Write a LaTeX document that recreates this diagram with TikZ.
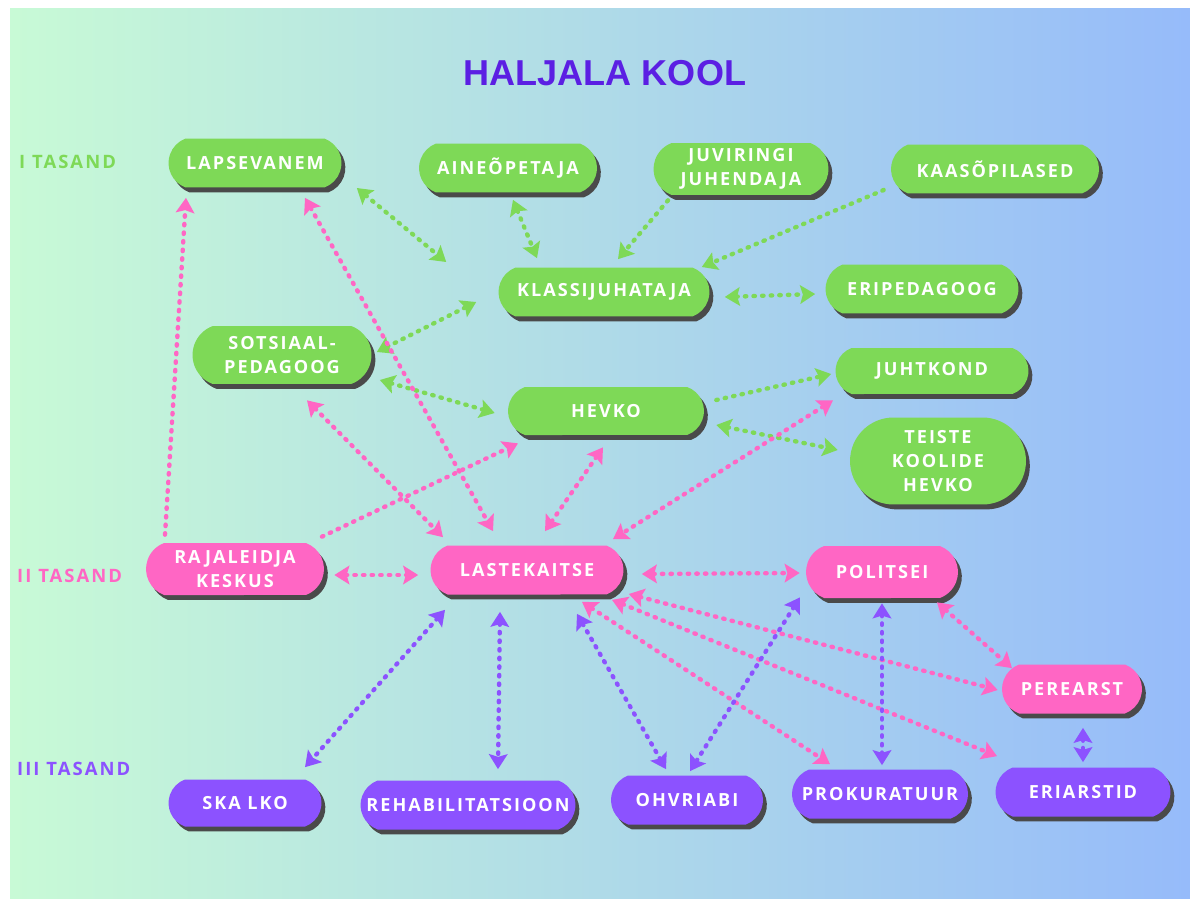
\documentclass[tikz,border=0pt]{standalone}
\usepackage{fontspec}
\newfontfamily\boxfont[LetterSpace=11]{Open Sans}
\newfontfamily\titlefont{Liberation Sans}
\usepackage{xcolor}
\usepackage{tikz}
\usetikzlibrary{arrows.meta,shapes.misc,shadows}

\definecolor{kgreen}{HTML}{7ED957}
\definecolor{kpink}{HTML}{FF66C4}
\definecolor{kpurple}{HTML}{8C52FF}
\definecolor{ktitle}{HTML}{5B1FE3}
\definecolor{kshadow}{HTML}{4A4A4A}
\definecolor{bgleft}{HTML}{C8FAD6}
\definecolor{bgright}{HTML}{96BBFA}

\begin{document}
\begin{tikzpicture}[
    x=0.02cm, y=-0.02cm,
    box/.style={
        % The shape:
        rounded rectangle,
        rounded rectangle arc length=140,
        minimum height=0.98cm,
        inner sep=2pt,
        % The shadow
        drop shadow={shadow xshift=2.2pt, shadow yshift=-2.8pt,
                     fill=kshadow, opacity=1},
        % The fonts
        text=white, align=center,
        font=\boxfont\bfseries\fontsize{10.3}{13.8}\selectfont},
    greenbox/.style={box, fill=kgreen},
    pinkbox/.style={box, fill=kpink},
    purplebox/.style={box, fill=kpurple},
    level/.style={anchor=west, font=\boxfont\bfseries\fontsize{10.5}{12}\selectfont},
    link/.style={line width=2.5pt, line cap=round, dash pattern=on 0.8pt off 4.1pt},
    glink/.style={link, draw=kgreen},
    plink/.style={link, draw=kpink},
    ulink/.style={link, draw=kpurple},
    both/.style={{Stealth[inset=1.5pt,length=8.5pt,width=10.5pt]}-{Stealth[inset=1.5pt,length=8.5pt,width=10.5pt]}},
    one/.style={-{Stealth[inset=1.5pt,length=8.5pt,width=10.5pt]}}
  ]
  \useasboundingbox (0,0) rectangle (1190,899);
  \fill [white] (0,0) rectangle (1190,899);
  \fill [left color=bgleft, right color=bgright] (10,8) rectangle (1190,899);

  \node (title) [text=ktitle, font=\titlefont\bfseries\fontsize{20.5}{24}\selectfont] at (605,73) {HALJALA KOOL};

  \node (tase1) [level, text=kgreen] at (13,162) {I TASAND};
  \node (tase2) [level, text=kpink] at (11,576) {II TASAND};
  \node (tase3) [level, text=kpurple] at (11,769) {III TASAND};

  % I tasand
  \node (lapsevanem) [greenbox, minimum width=3.6cm] at (255,163) {LAPSEVANEM};
  \node (aineopetaja) [greenbox, minimum width=3.7cm] at (508,168) {AINEÕPETAJA};
  \node (juviringi) [greenbox, minimum width=3.64cm, minimum height=1.04cm] at (741,169) {JUVIRINGI\\JUHENDAJA};
  \node (kaasopilased) [greenbox, minimum width=4.3cm] at (995,169) {KAASÕPILASED};
  \node (klassijuhataja) [greenbox, minimum width=4.36cm] at (604,292) {KLASSIJUHATAJA};
  \node (eripedagoog) [greenbox, minimum width=4cm] at (922,289) {ERIPEDAGOOG};
  \node (sotsiaal) [greenbox, minimum width=3.72cm, minimum height=1.16cm] at (282,355) {SOTSIAAL-\\PEDAGOOG};
  \node (hevko) [greenbox, minimum width=4.06cm, minimum height=0.96cm] at (606,411) {HEVKO};
  \node (juhtkond) [greenbox, minimum width=4cm, minimum height=0.92cm] at (932,371) {JUHTKOND};
  \node (teiste) [greenbox, rounded rectangle arc length=180, minimum width=3.66cm, minimum height=1.74cm] at (938,461) {TEISTE\\KOOLIDE\\HEVKO};

  % II tasand
  \node (rajaleidja) [pinkbox, minimum width=3.7cm, minimum height=1.04cm] at (235,569) {RAJALEIDJA\\KESKUS};
  \node (lastekaitse) [pinkbox, minimum width=4cm] at (527,570) {LASTEKAITSE};
  \node (politsei) [pinkbox, minimum width=3.18cm, minimum height=1.04cm] at (882,572) {POLITSEI};
  \node (perearst) [pinkbox, minimum width=2.94cm] at (1072,689) {PEREARST};

  % III tasand
  \node (skalko) [purplebox, minimum width=3.2cm, minimum height=0.94cm] at (245,803) {SKA LKO};
  \node (rehab) [purplebox, minimum width=4.44cm] at (468,805) {REHABILITATSIOON};
  \node (ohvriabi) [purplebox, minimum width=3.18cm] at (687,800) {OHVRIABI};
  \node (prokuratuur) [purplebox, minimum width=3.66cm] at (880,794) {PROKURATUUR};
  \node (eriarstid) [purplebox, minimum width=3.64cm] at (1083,792) {ERIARSTID};

  % rohelised seosed
  \draw [glink, both] ([shift={(15,25)}]lapsevanem.east) -- ([shift={(-52,-30)}]klassijuhataja.west);
  \draw [glink, both] ([shift={(5,7)}]aineopetaja.south) -- ([shift={(-67,-9)}]klassijuhataja.north);
  \draw [glink, one] ([shift={(-73,5)}]juviringi.south) -- ([shift={(14,-8)}]klassijuhataja.north);
  \draw [glink, one] ([shift={(-7,21)}]kaasopilased.west) -- ([shift={(-8,-25)}]klassijuhataja.east);
  \draw [glink, both] ([shift={(15,5)}]klassijuhataja.east) -- ([shift={(-10,5)}]eripedagoog.west);
  \draw [glink, both] ([shift={(5,-3)}]sotsiaal.east) -- ([shift={(-22,10)}]klassijuhataja.west);
  \draw [glink, both] ([shift={(8,25)}]sotsiaal.east) -- ([shift={(-13,2)}]hevko.west);
  \draw [glink, one] ([shift={(12,-11)}]hevko.east) -- ([shift={(-4,3)}]juhtkond.west);
  \draw [glink, both] ([shift={(12,14)}]hevko.east) -- ([shift={(-12,-11)}]teiste.west);

  % roosad seosed
  \draw [plink, one] ([shift={(-70,-8)}]rajaleidja.north) -- ([shift={(-69,10)}]lapsevanem.south);
  \draw [plink, both] ([shift={(50,10)}]lapsevanem.south) -- ([shift={(-34,-14)}]lastekaitse.north);
  \draw [plink, both] ([shift={(25,16)}]sotsiaal.south) -- ([shift={(-84,-8)}]lastekaitse.north);
  \draw [plink, one] ([shift={(87,-6)}]rajaleidja.north) -- ([shift={(-88,8)}]hevko.south);
  \draw [plink, both] ([shift={(-3,12)}]hevko.south) -- ([shift={(18,-14)}]lastekaitse.north);
  \draw [plink, both] ([shift={(-99,6)}]juhtkond.south) -- ([shift={(86,-6)}]lastekaitse.north);
  \draw [plink, both] ([shift={(10,6)}]rajaleidja.east) -- ([shift={(-12,5)}]lastekaitse.west);
  \draw [plink, both] ([shift={(18,4)}]lastekaitse.east) -- ([shift={(-6,1)}]politsei.west);
  \draw [plink, both] ([shift={(5,24)}]lastekaitse.east) -- ([shift={(-4,1)}]perearst.west);
  \draw [plink, both] ([shift={(85,5)}]lastekaitse.south) -- ([shift={(-86,-11)}]eriarstid.north);
  \draw [plink, both] ([shift={(55,7)}]lastekaitse.south) -- ([shift={(-50,-5)}]prokuratuur.north);
  \draw [plink, both] ([shift={(55,4)}]politsei.south) -- ([shift={(-60,4)}]perearst.north);

  % lillad seosed
  \draw [ulink, both] ([shift={(-82,15)}]lastekaitse.south) -- ([shift={(60,-12)}]skalko.north);
  \draw [ulink, both] ([shift={(-27,17)}]lastekaitse.south) -- ([shift={(30,-11)}]rehab.north);
  \draw [ulink, both] ([shift={(50,19)}]lastekaitse.south) -- ([shift={(-21,-6)}]ohvriabi.north);
  \draw [ulink, both] ([shift={(-82,-1)}]politsei.south) -- ([shift={(3,-4)}]ohvriabi.north);
  \draw [ulink, both] ([shift={(0,5)}]politsei.south) -- ([shift={(2,-4)}]prokuratuur.north);
  \draw [ulink, both] ([shift={(11,14)}]perearst.south) -- ([shift={(0,-5)}]eriarstid.north);
\end{tikzpicture}
\end{document}
